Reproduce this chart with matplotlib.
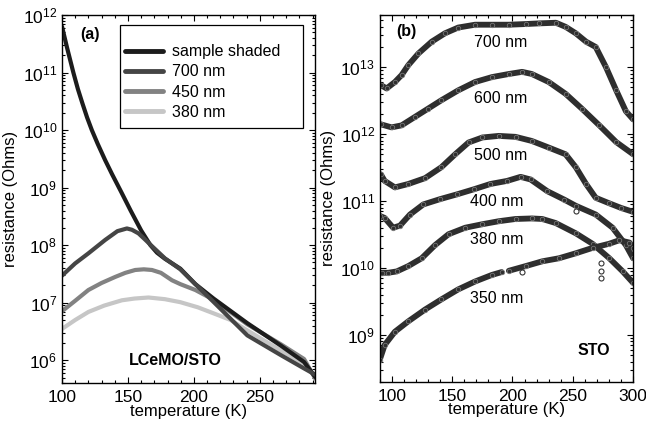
import numpy as np
import matplotlib
matplotlib.use("Agg")
import matplotlib.pyplot as plt
from matplotlib.ticker import LogLocator, MultipleLocator, NullFormatter
from matplotlib.patches import Rectangle

plt.rcParams['font.family'] = ['Liberation Sans', 'DejaVu Sans']
plt.rcParams['mathtext.fontset'] = 'custom'
plt.rcParams['mathtext.rm'] = 'Liberation Sans'
plt.rcParams['mathtext.it'] = 'Liberation Sans'
plt.rcParams['font.size'] = 11

# ---------------- panel (a) data: LCeMO/STO ----------------
a_labels = ["sample shaded", "700 nm", "450 nm", "380 nm"]
a_colors = ["#1c1c1c", "#454545", "#828282", "#c6c6c6"]

T_shaded = [100, 104, 108.6, 112, 115.5, 119, 122.6, 127, 132.7, 138, 145, 152, 160, 167,
            172, 178, 189.7, 201.1, 215.1, 240.5, 265.8, 283.5, 292]
R_shaded = [6.3e11, 2.6e11, 1.0e11, 5.2e10, 2.9e10, 1.66e10, 1.0e10, 5.8e9, 3.0e9, 1.7e9,
            8.3e8, 4.0e8, 1.8e8, 1.0e8, 7.4e7, 5.8e7, 3.9e7, 2.1e7, 1.17e7, 4.4e6, 1.8e6,
            9.3e5, 5.1e5]

T_700 = [100, 109.9, 120, 132.7, 142, 149.2, 153, 158, 163, 168.2, 178, 189.7, 201.1,
         215.1, 240.5, 265.8, 283.5, 292]
R_700 = [2.95e7, 4.8e7, 7.2e7, 1.23e8, 1.75e8, 1.95e8, 1.85e8, 1.6e8, 1.25e8, 9.6e7, 5.9e7,
         3.8e7, 2.1e7, 1.02e7, 2.7e6, 1.23e6, 7.2e5, 5.6e5]

T_450 = [100, 110, 120, 130, 140.3, 148, 155.5, 162, 168.2, 175, 183.4, 189.7, 201.1, 215.1,
         240.5, 265.8, 283.5, 292]
R_450 = [7.1e6, 1.08e7, 1.66e7, 2.2e7, 2.8e7, 3.3e7, 3.7e7, 3.8e7, 3.7e7, 3.3e7, 2.45e7,
         2.1e7, 1.66e7, 1.12e7, 4.2e6, 1.9e6, 1.05e6, 4.8e5]

T_380 = [100, 110, 120, 132, 145.4, 155, 165.6, 178, 189.7, 203, 215.1, 227.8, 240.5, 265.8,
         283.5, 292]
R_380 = [3.5e6, 5.0e6, 6.9e6, 8.9e6, 1.1e7, 1.18e7, 1.23e7, 1.15e7, 1.02e7, 8.3e6, 6.5e6,
         5.0e6, 3.3e6, 1.48e6, 8.7e5, 5.2e5]

# ---------------- panel (b) data: STO ----------------
b_labels = ["700 nm", "600 nm", "500 nm", "400 nm", "380 nm", "350 nm"]

T_b700 = [90.8, 95.6, 102.5, 108, 113.6, 122, 133, 144, 155, 169, 183, 197, 211, 222, 236,
          244, 252.5, 261, 269, 277.5, 286, 294, 300]
R_b700 = [5.4e12, 4.8e12, 6.0e12, 7.6e12, 1.07e13, 1.6e13, 2.4e13, 3.2e13, 3.9e13, 4.3e13,
          4.3e13, 4.3e13, 4.4e13, 4.5e13, 4.6e13, 4.0e13, 3.2e13, 2.4e13, 2.0e13, 1.0e13,
          4.5e12, 2.2e12, 1.66e12]

T_b600 = [90.8, 99.7, 108, 119, 130, 141, 155, 169, 183, 197, 208, 216, 230, 244, 257.5,
          272, 286, 300]
R_b600 = [1.4e12, 1.26e12, 1.35e12, 1.8e12, 2.4e12, 3.2e12, 4.5e12, 6.0e12, 7.1e12, 7.9e12,
          8.5e12, 7.9e12, 6.0e12, 4.0e12, 2.4e12, 1.35e12, 7.6e11, 5.0e11]

T_b500 = [90.8, 94, 102.5, 113.6, 127.5, 141, 152.5, 163.6, 175, 188.6, 202.5, 216, 230,
          244, 252.5, 261, 269, 280, 290, 300]
R_b500 = [2.5e11, 2.0e11, 1.6e11, 1.8e11, 2.2e11, 3.2e11, 5.0e11, 7.5e11, 8.9e11, 9.4e11,
          9.1e11, 7.9e11, 6.3e11, 5.0e11, 3.2e11, 1.8e11, 1.12e11, 9.3e10, 7.9e10, 6.9e10]

T_b400 = [90, 94, 101, 106.7, 115, 126, 140, 154, 168, 181.7, 195.5, 206.7, 215, 229, 243,
          252.5, 269, 283, 294, 300]
R_b400 = [6.0e10, 5.6e10, 4.0e10, 4.3e10, 6.3e10, 8.9e10, 1.07e11, 1.26e11, 1.5e11, 1.8e11,
          2.0e11, 2.3e11, 2.1e11, 1.4e11, 1.05e11, 8.5e10, 6.3e10, 4.0e10, 2.2e10, 1.4e10]

T_b380 = [91.4, 97, 104, 113.6, 124.7, 135.8, 147, 160.8, 174.7, 188.6, 202.5, 216, 224.7,
          235.8, 252.5, 266.4, 280.3, 291.4, 300]
R_b380 = [8.5e9, 8.5e9, 8.9e9, 1.07e10, 1.4e10, 2.2e10, 3.2e10, 4.0e10, 4.5e10, 5.0e10,
          5.4e10, 5.5e10, 5.4e10, 4.7e10, 3.3e10, 2.3e10, 1.4e10, 8.9e9, 6.0e9]

T_b350 = [90, 94, 102.5, 113.6, 127.5, 141, 155, 169, 183, 191, np.nan, 197, 211, 224.7,
          238.6, 252.5, 266.4, 280, 288.6, 297, 300]
R_b350 = [4.3e8, 7.1e8, 1.12e9, 1.6e9, 2.4e9, 3.4e9, 4.8e9, 6.3e9, 7.9e9, 8.7e9, np.nan,
          9.1e9, 1.07e10, 1.26e10, 1.4e10, 1.66e10, 2.0e10, 2.3e10, 2.6e10, 2.4e10, 2.0e10]

# scattered open-circle points away from the curves
T_stray = [208, 252.5, 273.3, 273.3, 273.3]
R_stray = [8.7e9, 7.2e10, 1.2e10, 8.9e9, 7.1e9]

# curve label positions (T, R)
b_label_T = [190, 190, 190, 187, 187, 187]
b_label_R = [2.35e13, 3.4e12, 4.8e11, 1.0e11, 2.7e10, 3.5e9]

fig = plt.figure(figsize=(6.46, 4.29), dpi=100)
axA = fig.add_axes([0.096, 0.107, 0.392, 0.858])
axB = fig.add_axes([0.588, 0.110, 0.392, 0.855])

TICK_FS = 12.5
LAB_FS = 12
TXT_FS = 11.5


def style(ax):
    ax.set_yscale('log')
    ax.tick_params(which='both', direction='in', top=True, right=True, labelsize=TICK_FS,
                   color='black', width=0.8)
    ax.tick_params(which='major', length=4.5, pad=3.5)
    ax.tick_params(axis='x', which='major', pad=5)
    ax.tick_params(which='minor', length=2.2)
    ax.xaxis.set_major_locator(MultipleLocator(50))
    ax.xaxis.set_minor_locator(MultipleLocator(10))
    ax.yaxis.set_major_locator(LogLocator(base=10, numticks=20))
    ax.yaxis.set_minor_locator(LogLocator(base=10, subs=np.arange(2, 10), numticks=20))
    ax.yaxis.set_minor_formatter(NullFormatter())
    for s in ax.spines.values():
        s.set_linewidth(1.0)
    ax.set_xlabel("temperature (K)", fontsize=LAB_FS, labelpad=-1)
    ax.set_ylabel("resistance (Ohms)", fontsize=LAB_FS, labelpad=3)


# ---- panel (a)
series_a = [(T_shaded, R_shaded), (T_700, R_700), (T_450, R_450), (T_380, R_380)]
order = [3, 2, 0, 1]
handles = [None] * 4
for i in order:
    T, R = series_a[i]
    h, = axA.plot(T, R, color=a_colors[i], lw=3.0, solid_capstyle='round',
                  solid_joinstyle='round', label=a_labels[i])
    handles[i] = h
style(axA)
axA.set_xlim(100, 292)
axA.set_ylim(4.0e5, 1e12)
leg = axA.legend(handles=handles, labels=a_labels, loc='upper left',
                 bbox_to_anchor=(0.247, 0.921), frameon=False, fontsize=TXT_FS,
                 handlelength=2.4, handletextpad=0.55, labelspacing=0.33, borderpad=0.0,
                 borderaxespad=0.0)
for ln in leg.get_lines():
    ln.set_linewidth(3.5)
axA.add_patch(Rectangle((0.229, 0.694), 0.724, 0.279, transform=axA.transAxes,
                        fill=True, facecolor='white', edgecolor='black', lw=0.9, zorder=4))
leg.set_zorder(5)
axA.text(0.11, 0.946, "(a)", transform=axA.transAxes, fontsize=TXT_FS, fontweight='bold',
         ha='center', va='center')
axA.text(0.447, 0.0625, "LCeMO/STO", transform=axA.transAxes, fontsize=TXT_FS,
         fontweight='bold', ha='center', va='center')

# ---- panel (b)
series_b = [(T_b700, R_b700), (T_b600, R_b600), (T_b500, R_b500), (T_b400, R_b400),
            (T_b380, R_b380), (T_b350, R_b350)]
for T, R in series_b:
    axB.plot(T, R, color='#2e2e2e', lw=4.2, solid_capstyle='round', solid_joinstyle='round')
    axB.plot(T, R, ls='none', marker='o', ms=3.2, mfc='none', mec='#777777', mew=0.6)
axB.plot(T_stray, R_stray, ls='none', marker='o', ms=3.6, mfc='white', mec='#333333', mew=0.8)
for lab, tx, ry in zip(b_labels, b_label_T, b_label_R):
    axB.text(tx, ry, lab, fontsize=TXT_FS, ha='center', va='center')
style(axB)
axB.set_xlim(90, 300)
axB.set_ylim(2.0e8, 6.0e13)
axB.text(0.105, 0.955, "(b)", transform=axB.transAxes, fontsize=TXT_FS, fontweight='bold',
         ha='center', va='center')
axB.text(0.843, 0.086, "STO", transform=axB.transAxes, fontsize=TXT_FS, fontweight='bold',
         ha='center', va='center')

fig.savefig("out.png", dpi=100)
